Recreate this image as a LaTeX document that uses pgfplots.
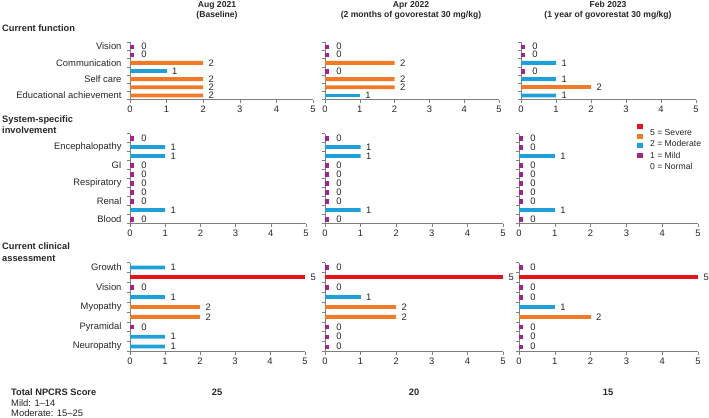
\documentclass[border=0pt]{standalone}
\usepackage{fontspec}
\setmainfont{Liberation Sans}
\usepackage{pgfplots}
\usepackage{pgfplotstable}
\pgfplotsset{compat=1.18}
\definecolor{cRed}{HTML}{E5141B}
\definecolor{cOrange}{HTML}{F07A28}
\definecolor{cBlue}{HTML}{1FA0D8}
\definecolor{cPurple}{HTML}{A3238F}
\definecolor{axc}{HTML}{7F7F7F}
\definecolor{txt}{HTML}{262626}
\newcommand\lab{\fontsize{9.4bp}{11bp}\selectfont}
\newcommand\leg{\fontsize{8.6bp}{10bp}\selectfont}
\newcommand\hdr{\fontsize{8.6bp}{10bp}\selectfont\bfseries}
\newcommand\sect{\fontsize{9.3bp}{11bp}\selectfont\bfseries}

% Current function (rows top to bottom): a = Aug 2021, b = Apr 2022, c = Feb 2023
\pgfplotstableread{
r a b c
-1 0 0 0
-2 0 0 0
-3 2 2 1
-4 1 0 0
-5 2 2 1
-6 2 2 2
-7 2 1 1
}\tabA
% System-specific involvement
\pgfplotstableread{
r a b c
-1 0 0 0
-2 1 1 0
-3 1 1 1
-4 0 0 0
-5 0 0 0
-6 0 0 0
-7 0 0 0
-8 0 0 0
-9 1 1 1
-10 0 0 0
}\tabB
% Current clinical assessment
\pgfplotstableread{
r a b c
-1 1 0 0
-2 5 5 5
-3 0 0 0
-4 1 1 0
-5 2 2 1
-6 2 2 2
-7 0 0 0
-8 1 0 0
-9 1 0 0
}\tabC

\pgfplotsset{
  panel/.style={
    scale only axis, xmin=0, xmax=5, xtick={0,1,2,3,4,5},
    axis x line*=bottom, axis y line*=left,
    axis line style={draw=axc, line width=0.7bp},
    tick style={draw=axc, line width=0.6bp},
    tick align=outside, major tick length=3bp,
    tick label style={font=\lab, text=txt},
    /pgf/number format/assume math mode=true,
    yticklabels={},
    clip=false,
    point meta=x,
    nodes near coords={\pgfmathprintnumber{\pgfplotspointmeta}},
    every node near coord/.append style={font=\lab, text=txt, anchor=west},
  },
  rowsA/.style={ymin=-7.5, ymax=-0.5, ytick={-7.5,-6.5,...,-0.4}},
  rowsB/.style={ymin=-10.5, ymax=-0.5, ytick={-10.5,-9.5,...,-0.4}},
  rowsC/.style={ymin=-9.5, ymax=-0.5, ytick={-9.5,-8.5,...,-0.4}},
  ylab/.style={extra y tick style={major tick length=0pt, yticklabel style={xshift=-5bp}}},
  sq/.style={legend image code/.code={\fill[##1, overlay] (0bp,#1bp-2.5bp) rectangle (6bp,#1bp+2.5bp); \path[fill=none, draw=none] (0bp,0bp) rectangle (11.5bp,5bp);}},
}

\newcommand\bars[2]{%
  \addplot[forget plot, xbar, bar width=3.8bp, bar shift=0pt, draw=none, fill=cRed,
    restrict x to domain=4.5:5.5, every node near coord/.append style={xshift=2bp}] table[x=#2,y=r]{#1};
  \addplot[forget plot, xbar, bar width=3.8bp, bar shift=0pt, draw=none, fill=cOrange,
    restrict x to domain=1.5:2.5, every node near coord/.append style={xshift=2bp}] table[x=#2,y=r]{#1};
  \addplot[forget plot, xbar, bar width=3.8bp, bar shift=0pt, draw=none, fill=cBlue,
    restrict x to domain=0.5:1.5, every node near coord/.append style={xshift=2bp}] table[x=#2,y=r]{#1};
  \addplot[forget plot, only marks, mark=square*, mark size=1.8bp, color=cPurple,
    mark options={xshift=1.8bp},
    restrict x to domain=-0.5:0.5, every node near coord/.append style={xshift=6bp}] table[x=#2,y=r]{#1};
}

\begin{document}
\begin{tikzpicture}
\useasboundingbox (0bp,0bp) rectangle (709bp,-418bp);

% column headers
\node[font=\hdr, text=txt, anchor=base] at (217bp,-7.5bp) {Aug 2021};
\node[font=\hdr, text=txt, anchor=base] at (217bp,-17.5bp) {(Baseline)};
\node[font=\hdr, text=txt, anchor=base] at (411bp,-7.5bp) {Apr 2022};
\node[font=\hdr, text=txt, anchor=base] at (411bp,-17.5bp) {(2 months of govorestat 30 mg/kg)};
\node[font=\hdr, text=txt, anchor=base] at (608bp,-7.5bp) {Feb 2023};
\node[font=\hdr, text=txt, anchor=base] at (608bp,-17.5bp) {(1 year of govorestat 30 mg/kg)};

% section titles
\node[font=\sect, text=txt, anchor=base west, inner sep=0pt] at (2bp,-31bp) {Current function};
\node[font=\sect, text=txt, anchor=base west, inner sep=0pt] at (2bp,-122bp) {System-specific};
\node[font=\sect, text=txt, anchor=base west, inner sep=0pt] at (2bp,-133bp) {involvement};
\node[font=\sect, text=txt, anchor=base west, inner sep=0pt] at (2bp,-249bp) {Current clinical};
\node[font=\sect, text=txt, anchor=base west, inner sep=0pt] at (2bp,-261bp) {assessment};

% totals
\node[font=\sect, text=txt, anchor=base west, inner sep=0pt] at (11bp,-395bp) {Total NPCRS Score};
\node[font=\lab, text=txt, anchor=base west, inner sep=0pt] at (11bp,-406bp) {Mild: 1–14};
\node[font=\lab, text=txt, anchor=base west, inner sep=0pt] at (11bp,-416bp) {Moderate: 15–25};
\node[font=\sect, text=txt, anchor=base, inner sep=0pt] at (217bp,-395bp) {25};
\node[font=\sect, text=txt, anchor=base, inner sep=0pt] at (414bp,-395bp) {20};
\node[font=\sect, text=txt, anchor=base, inner sep=0pt] at (608bp,-395bp) {15};

% ---------- Row 1: Current function ----------
\begin{axis}[panel, rowsA, ylab, at={(130bp,-99.5bp)}, anchor=south west, width=183bp, height=57bp,
  extra y ticks={-1,-3,-5,-7},
  extra y tick labels={Vision,Communication,Self care,Educational achievement}]
\bars{\tabA}{a}
\end{axis}
\begin{axis}[panel, rowsA, at={(325bp,-99.5bp)}, anchor=south west, width=174bp, height=57bp]
\bars{\tabA}{b}
\end{axis}
\begin{axis}[panel, rowsA, at={(521bp,-99.5bp)}, anchor=south west, width=175bp, height=57bp]
\bars{\tabA}{c}
\end{axis}

% ---------- Row 2: System-specific involvement ----------
\begin{axis}[panel, rowsB, ylab, at={(130bp,-223.5bp)}, anchor=south west, width=176bp, height=90bp,
  extra y ticks={-2,-4,-6,-8,-10},
  extra y tick labels={Encephalopathy,GI,Respiratory,Renal,Blood}]
\bars{\tabB}{a}
\end{axis}
\begin{axis}[panel, rowsB, at={(325bp,-223.5bp)}, anchor=south west, width=178bp, height=90bp]
\bars{\tabB}{b}
\end{axis}
\begin{axis}[panel, rowsB, at={(519bp,-223.5bp)}, anchor=south west, width=179bp, height=90bp,
  legend style={at={(0.659,1.064)}, anchor=north west, draw=none, fill=none, font=\leg, text=txt,
    inner sep=0pt, row sep=0.6bp, nodes={inner sep=1.5bp}},
  legend cell align=left]
\addlegendimage{fill=cRed, draw=none, sq=7.1}\addlegendentry{5 = Severe}
\addlegendimage{fill=cOrange, draw=none, sq=8.0}\addlegendentry{2 = Moderate}
\addlegendimage{fill=cBlue, draw=none, sq=9.8}\addlegendentry{1 = Mild}
\addlegendimage{fill=cPurple, draw=none, sq=11.3}\addlegendentry{0 = Normal}
\bars{\tabB}{c}
\end{axis}

% ---------- Row 3: Current clinical assessment ----------
\begin{axis}[panel, rowsC, ylab, at={(130bp,-351.5bp)}, anchor=south west, width=175bp, height=89bp,
  extra y ticks={-1,-3,-5,-7,-9},
  extra y tick labels={Growth,Vision,Myopathy,Pyramidal,Neuropathy}]
\bars{\tabC}{a}
\end{axis}
\begin{axis}[panel, rowsC, at={(325bp,-351.5bp)}, anchor=south west, width=178bp, height=89bp]
\bars{\tabC}{b}
\end{axis}
\begin{axis}[panel, rowsC, at={(519bp,-351.5bp)}, anchor=south west, width=179bp, height=89bp]
\bars{\tabC}{c}
\end{axis}
\end{tikzpicture}
\end{document}
